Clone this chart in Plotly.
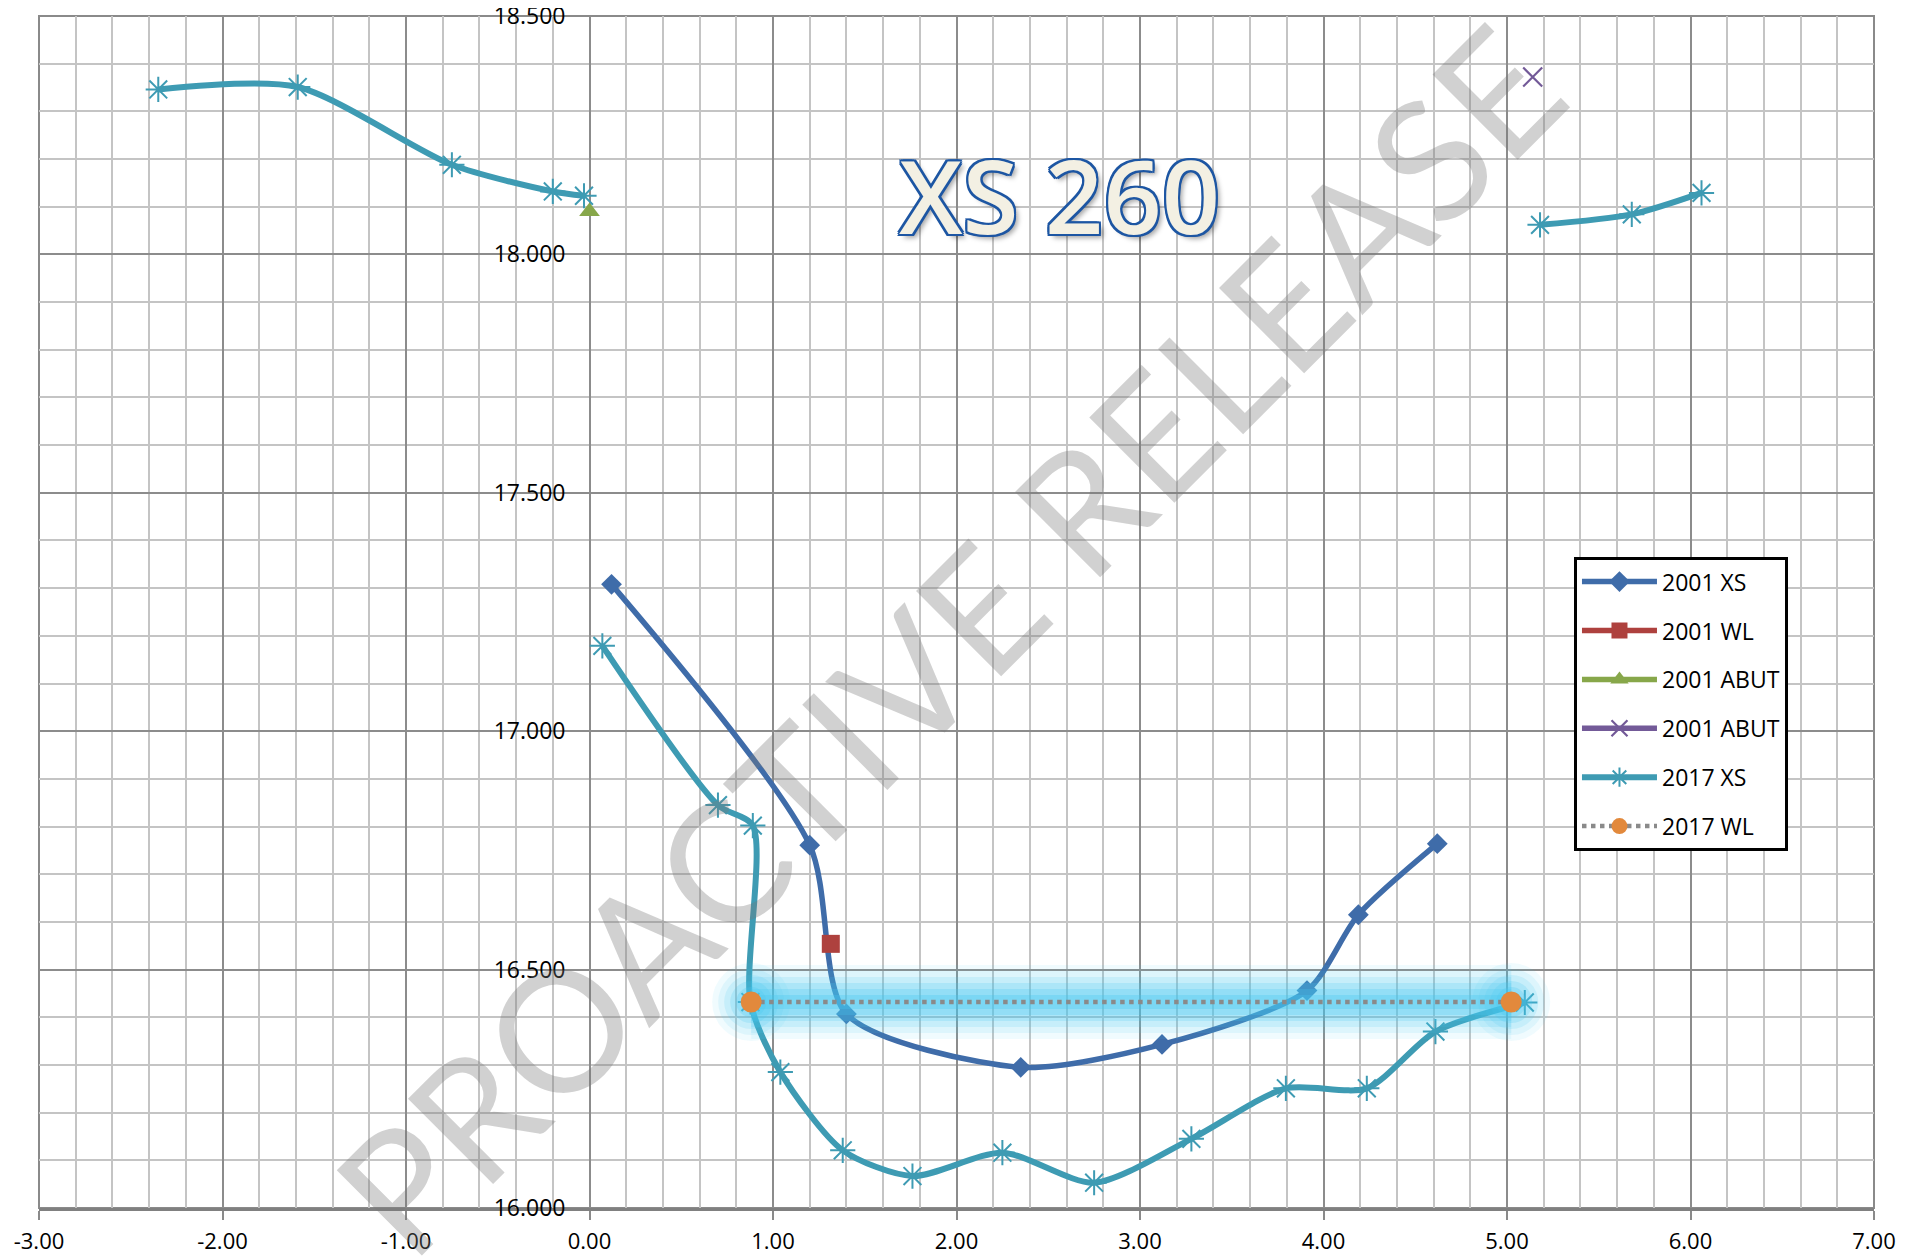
"""Cross-section XS 260: 2001 vs 2017 survey profiles."""

import plotly.graph_objects as go

# ---- data (offset m, level m) -------------------------------------------
xs2001_x = [0.12, 1.20, 1.40, 2.35, 3.12, 3.91, 4.19, 4.62]
xs2001_y = [17.308, 16.761, 16.407, 16.295, 16.343, 16.456, 16.615, 16.764]

wl2001_x = [1.315]
wl2001_y = [16.554]

abut2001a_x = [0.0]
abut2001a_y = [18.09]

abut2001b_x = [5.14]
abut2001b_y = [18.372]

# None = gaps in the 2017 survey
xs2017_x = [-2.35, -1.59, -0.75, -0.20, -0.03, None,
            0.07, 0.70, 0.89, 0.877, 1.04, 1.38, 1.76, 2.25, 2.75, 3.28,
            3.795, 4.236, 4.61, 5.097, None,
            5.18, 5.68, 6.06]
xs2017_y = [18.346, 18.351, 18.188, 18.132, 18.123, None,
            17.179, 16.845, 16.802, 16.432, 16.285, 16.121, 16.067, 16.116, 16.053, 16.145,
            16.251, 16.251, 16.370, 16.431, None,
            18.062, 18.084, 18.129]

wl2017_x = [0.881, 5.023]
wl2017_y = [16.432, 16.432]

x_range = [-3, 7]
y_range = [16.0, 18.5]
x_ticks = [-3, -2, -1, 0, 1, 2, 3, 4, 5, 6, 7]
x_tick_labels = ["-3.00", "-2.00", "-1.00", "0.00", "1.00", "2.00",
                 "3.00", "4.00", "5.00", "6.00", "7.00"]

# ---- colours --------------------------------------------------------------
_BLUE = "#3F6CA9"
_RED = "#AE413E"
_GREEN = "#87A74A"
_PURPLE = "#735A98"
_TEAL = "#3E9BB3"
_ORANGE = "#E2893C"
_GLOW = "rgba(70,200,240,{a})"
_TICK_FONT = "Open Sans, sans-serif"

fig = go.Figure()

fig.add_trace(go.Scatter(
    x=xs2001_x, y=xs2001_y, name="2001 XS", mode="lines+markers",
    line={"color": _BLUE, "width": 5.5, "shape": "spline", "smoothing": 0.75},
    marker={"symbol": "diamond", "size": 16, "color": _BLUE},
    legendgroup="a",
))
fig.add_trace(go.Scatter(
    x=wl2001_x, y=wl2001_y, name="2001 WL", mode="lines+markers",
    line={"color": _RED, "width": 5.5},
    marker={"symbol": "square", "size": 18, "color": _RED},
    legendgroup="b",
))
fig.add_trace(go.Scatter(
    x=abut2001a_x, y=abut2001a_y, name="2001 ABUT", mode="lines+markers",
    line={"color": _GREEN, "width": 5.5},
    marker={"symbol": "triangle-up", "size": 18, "color": _GREEN},
    legendgroup="c",
))
fig.add_trace(go.Scatter(
    x=abut2001b_x, y=abut2001b_y, name="2001 ABUT", mode="lines+markers",
    line={"color": _PURPLE, "width": 5.5},
    marker={"symbol": "x-thin-open", "size": 19, "color": _PURPLE,
            "line": {"color": _PURPLE, "width": 2.2}},
    legendgroup="d",
))
fig.add_trace(go.Scatter(
    x=xs2017_x, y=xs2017_y, name="2017 XS", mode="lines+markers",
    line={"color": _TEAL, "width": 6, "shape": "spline", "smoothing": 0.75},
    marker={"symbol": "asterisk-open", "size": 21, "color": _TEAL,
            "line": {"color": _TEAL, "width": 2}},
    connectgaps=False, legendgroup="e",
))

# soft glow round the 2017 water level
for w, a in [(74, 0.08), (62, 0.11), (50, 0.15), (38, 0.2), (26, 0.25), (14, 0.3)]:
    fig.add_trace(go.Scatter(
        x=wl2017_x, y=wl2017_y, mode="lines+markers", showlegend=False,
        hoverinfo="skip", legendgroup="f",
        line={"color": _GLOW.format(a=a), "width": w},
        marker={"size": w + 4, "color": _GLOW.format(a=a)},
    ))

fig.add_trace(go.Scatter(
    x=wl2017_x, y=wl2017_y, name="2017 WL", mode="lines+markers",
    line={"color": "#8A8A8A", "width": 4.5, "dash": "dot"},
    marker={"symbol": "circle", "size": 21, "color": _ORANGE},
    legendgroup="f",
))

# title
fig.add_annotation(
    text="XS 260", xref="paper", yref="paper", x=0.556, y=0.85,
    showarrow=False, xanchor="center", yanchor="middle",
    font={"family": "Open Sans, sans-serif", "size": 102, "color": "#F3F0E3",
          "weight": 600,
          "shadow": ("-2px -2px 0 #1D56A3, 2px -2px 0 #1D56A3, -2px 2px 0 #1D56A3, "
                     "2px 2px 0 #1D56A3, 0 2px 0 #1D56A3, 0 -2px 0 #1D56A3, "
                     "2px 0 0 #1D56A3, -2px 0 0 #1D56A3, 4px 4px 5px rgba(0,0,0,0.35)")},
)

# watermark
fig.add_annotation(
    text="PROACTIVE RELEASE", xref="paper", yref="paper", x=0.495, y=0.478,
    showarrow=False, xanchor="center", yanchor="middle", textangle=-45,
    font={"family": "Lato, Open Sans, sans-serif", "size": 168, "weight": 400,
          "color": "rgba(120,120,120,0.34)"},
)

# plot frame
fig.add_shape(type="rect", xref="paper", yref="paper", x0=0, x1=1, y0=0, y1=1,
              line={"color": "#8A8A8A", "width": 2}, layer="below")

# the page body adds an 8px margin, so the figure is shifted to compensate
fig.update_layout(
    width=1909, height=1250, autosize=False,
    margin={"l": 31, "r": 43, "t": 8, "b": 50},
    paper_bgcolor="white", plot_bgcolor="white",
    showlegend=True,
    legend={
        "x": 0.8365, "y": 0.546, "xanchor": "left", "yanchor": "top",
        "bgcolor": "white", "bordercolor": "black", "borderwidth": 3,
        "font": {"family": "Open Sans, sans-serif", "size": 23, "color": "black"},
        "traceorder": "grouped", "tracegroupgap": 16, "itemwidth": 75,
    },
    xaxis={
        "range": x_range, "tickmode": "array", "tickvals": x_ticks,
        "ticktext": x_tick_labels,
        "ticks": "outside", "ticklen": 9, "tickwidth": 2, "tickcolor": "#8A8A8A",
        "ticklabelstandoff": 3,
        "showline": True, "linecolor": "#808080", "linewidth": 3,
        "showgrid": True, "gridcolor": "#8C8C8C", "gridwidth": 2,
        "zeroline": False, "automargin": False,
        "minor": {"dtick": 0.2, "tick0": -3, "showgrid": True,
                  "gridcolor": "#C4C4C4", "gridwidth": 2},
        "tickfont": {"family": _TICK_FONT, "size": 22, "color": "black"},
        "fixedrange": True,
    },
    yaxis={
        "range": y_range, "dtick": 0.5, "tick0": 16, "tickformat": ".3f",
        "anchor": "free", "position": 0.3, "ticks": "", "ticklabelstandoff": 24,
        "ticklabeloverflow": "allow",
        "showline": False,
        "showgrid": True, "gridcolor": "#8C8C8C", "gridwidth": 2,
        "zeroline": False, "automargin": False,
        "minor": {"dtick": 0.1, "showgrid": True, "gridcolor": "#C4C4C4", "gridwidth": 2},
        "tickfont": {"family": _TICK_FONT, "size": 23, "color": "black"},
        "fixedrange": True,
    },
)

fig.write_html("out.html")
